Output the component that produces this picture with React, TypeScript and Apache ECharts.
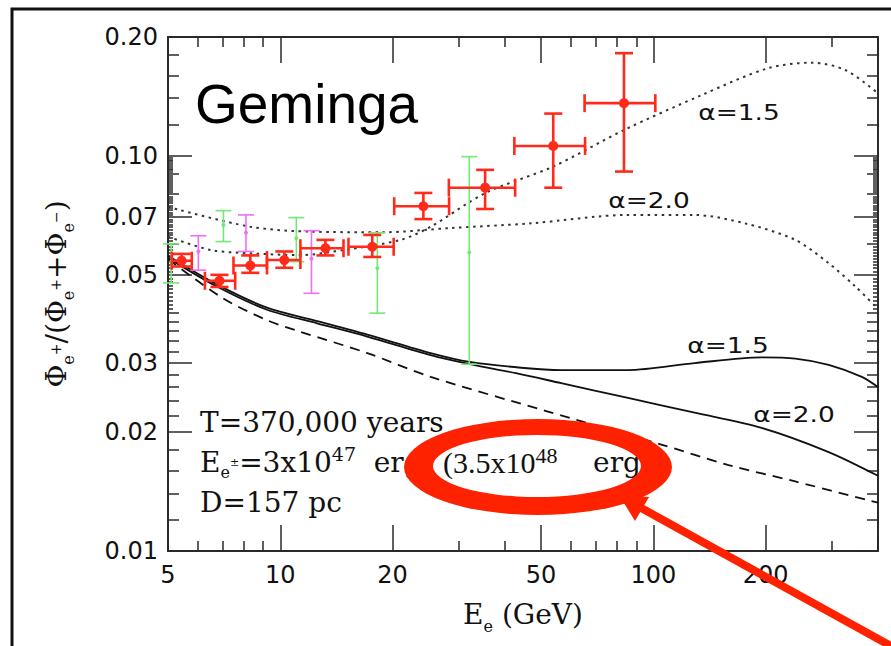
import { useEffect, useRef } from "react";
import * as echarts from "echarts";

// ---- axis ticks ----
const xTickValues = [5, 10, 20, 50, 100, 200];
const xMinorTickValues = [6, 7, 8, 9, 30, 40, 60, 70, 80, 90, 300, 400];
const yTickValues = [0.01, 0.02, 0.03, 0.05, 0.07, 0.1, 0.2];
const yMidTickValues = [
  0.012, 0.014, 0.016, 0.018, 0.022, 0.024, 0.026, 0.028, 0.032, 0.034, 0.036,
  0.038, 0.04, 0.06, 0.08, 0.09, 0.12, 0.14, 0.16, 0.18,
];
// fine hatch ticks every 0.001 between 0.04 and 0.1
const yFineTickValues: number[] = [];
for (let k = 41; k < 100; k++) {
  if (k % 10 !== 0) yFineTickValues.push(k / 1000);
}

// ---- model curves: energy (GeV) and positron fraction ----
const dotted15E = [5, 6.5, 8.3, 11.3, 14.8, 21, 25.3, 35.4, 53.9, 83.4, 135, 203, 266, 327, 400];
const dotted15V = [0.0625, 0.0578, 0.0567, 0.0561, 0.0578, 0.0613, 0.0662, 0.0805, 0.094, 0.1163, 0.1427, 0.1667, 0.1722, 0.165, 0.144];

const dotted20E = [5, 8.3, 12.1, 18.9, 28.6, 47, 85.5, 129, 176, 240, 295, 348, 400];
const dotted20V = [0.0743, 0.0662, 0.0643, 0.0641, 0.0657, 0.0675, 0.0709, 0.0709, 0.0675, 0.0613, 0.0535, 0.0467, 0.041];

const solid15E = [5, 6.76, 9.21, 12.55, 17.1, 25.3, 32.2, 44.2, 56.6, 85.5, 129, 195, 240, 295, 362, 400];
const solid15V = [0.0559, 0.0473, 0.0413, 0.0382, 0.0353, 0.0317, 0.0301, 0.0291, 0.0287, 0.0287, 0.0299, 0.0309, 0.0307, 0.0296, 0.0276, 0.026];

const solid20E = [5, 6.76, 9.21, 12.55, 17.1, 25.3, 32.2, 42.8, 56.6, 85.5, 129, 195, 295, 400];
const solid20V = [0.0552, 0.0467, 0.0408, 0.0377, 0.0349, 0.0313, 0.0297, 0.0282, 0.0266, 0.0244, 0.0224, 0.0205, 0.0178, 0.0155];

const dashedE = [5, 7.0, 9.21, 11.3, 17.1, 25.3, 51.6, 105, 159, 240, 400];
const dashedV = [0.0548, 0.0437, 0.0384, 0.0359, 0.0317, 0.0276, 0.0226, 0.0186, 0.0165, 0.015, 0.01325];

// ---- measurements ----
const redE = [5.44, 6.87, 8.31, 10.25, 13.21, 17.64, 24.18, 35.4, 53.9, 83.4];
const redElo = [5.12, 6.28, 7.49, 9.21, 11.32, 15.23, 20.2, 28.3, 42.4, 65.4];
const redEhi = [5.79, 7.57, 9.21, 11.32, 14.77, 20.13, 28.34, 42.6, 65.6, 101.2];
const redV = [0.0543, 0.0483, 0.0528, 0.0545, 0.0584, 0.0589, 0.0746, 0.0831, 0.106, 0.136];
const redVlo = [0.0525, 0.0466, 0.0506, 0.0521, 0.056, 0.0555, 0.0692, 0.0734, 0.0831, 0.0913];
const redVhi = [0.0565, 0.05, 0.056, 0.0573, 0.0613, 0.0631, 0.0806, 0.0922, 0.128, 0.182];

const greenE = [5.1, 7.04, 11.04, 18.2, 32.1];
const greenV = [0.0539, 0.0669, 0.0619, 0.052, 0.057];
const greenVlo = [0.0477, 0.0607, 0.054, 0.04, 0.0297];
const greenVhi = [0.0599, 0.0727, 0.0698, 0.0639, 0.0996];

const magentaE = [6.03, 8.09, 12.12];
const magentaV = [0.0573, 0.0639, 0.0549];
const magentaVlo = [0.0514, 0.0573, 0.0449];
const magentaVhi = [0.0628, 0.0709, 0.0647];

const AXIS = "#2a2a2a";
const RED = "#ff2a1a";
const MARK_RED = "#ff2200";
const SERIF = "DejaVu Serif";
const TIMES = "Liberation Serif";
const SANS = "DejaVu Sans";

// hand-drawn style highlight ring: outer ellipse clockwise, inner one counter-clockwise
echarts.graphic.registerShape(
  "highlightRing",
  echarts.graphic.extendPath(
    "M 404 467 A 134 48 0 1 1 672 467 A 134 48 0 1 1 404 467 Z " +
      "M 433 466 A 104 31 0 1 0 641 466 A 104 31 0 1 0 433 466 Z",
    {}
  )
);

const zip = (xs: number[], ys: number[]) => xs.map((x, i) => [x, ys[i]]);

function curve(name: string, xs: number[], ys: number[], width: number, dash: any, color: string) {
  return {
    name,
    type: "line",
    xAxisIndex: 0,
    yAxisIndex: 0,
    data: zip(xs, ys),
    smooth: 0.3,
    symbol: "none",
    silent: true,
    z: 2,
    lineStyle: { color, width, type: dash },
  };
}

function errorBars(name: string, items: number[][], color: string, width: number, cap: number, dot: number, z: number) {
  return {
    name,
    type: "custom",
    xAxisIndex: 0,
    yAxisIndex: 0,
    z,
    silent: true,
    clip: false,
    encode: { x: 0, y: 1 },
    data: items,
    renderItem: (_params: any, api: any) => {
      const c = api.coord([api.value(0), api.value(1)]);
      const lo = api.coord([api.value(2), api.value(4)]);
      const hi = api.coord([api.value(3), api.value(5)]);
      const st = { stroke: color, lineWidth: width };
      const children: any[] = [
        { type: "line", shape: { x1: c[0], y1: hi[1], x2: c[0], y2: lo[1] }, style: st },
        { type: "line", shape: { x1: c[0] - cap, y1: hi[1], x2: c[0] + cap, y2: hi[1] }, style: st },
        { type: "line", shape: { x1: c[0] - cap, y1: lo[1], x2: c[0] + cap, y2: lo[1] }, style: st },
      ];
      if (Math.abs(hi[0] - lo[0]) > 0.5) {
        children.push(
          { type: "line", shape: { x1: lo[0], y1: c[1], x2: hi[0], y2: c[1] }, style: st },
          { type: "line", shape: { x1: lo[0], y1: c[1] - cap, x2: lo[0], y2: c[1] + cap }, style: st },
          { type: "line", shape: { x1: hi[0], y1: c[1] - cap, x2: hi[0], y2: c[1] + cap }, style: st }
        );
      }
      children.push({ type: "circle", shape: { cx: c[0], cy: c[1], r: dot }, style: { fill: color } });
      return { type: "group", children };
    },
  };
}

const redPoints = redE.map((e, i) => [e, redV[i], redElo[i], redEhi[i], redVlo[i], redVhi[i]]);
const greenPoints = greenE.map((e, i) => [e, greenV[i], e, e, greenVlo[i], greenVhi[i]]);
const magentaPoints = magentaE.map((e, i) => [e, magentaV[i], e, e, magentaVlo[i], magentaVhi[i]]);

function xAxisDef(position: string, ticks: number[], len: number, main: boolean, labels: boolean) {
  return {
    type: "log",
    logBase: 10,
    min: 5,
    max: 400,
    position,
    gridIndex: 0,
    splitLine: { show: false },
    axisPointer: { show: false },
    axisLine: { show: main, onZero: false, lineStyle: { color: AXIS, width: 2 } },
    axisTick: { show: true, inside: true, length: len, customValues: ticks, lineStyle: { color: AXIS, width: 1.5 } },
    axisLabel: labels
      ? {
          show: true,
          customValues: ticks,
          margin: 12,
          color: "#111",
          fontFamily: SANS,
          fontSize: 24,
          formatter: (v: number) => String(Math.round(v)),
        }
      : { show: false },
  };
}

function yAxisDef(position: string, ticks: number[], len: number, main: boolean, labels: boolean) {
  return {
    type: "log",
    logBase: 10,
    min: 0.01,
    max: 0.2,
    position,
    gridIndex: 0,
    splitLine: { show: false },
    axisPointer: { show: false },
    axisLine: { show: main, onZero: false, lineStyle: { color: AXIS, width: 2 } },
    axisTick: { show: true, inside: true, length: len, customValues: ticks, lineStyle: { color: AXIS, width: 1.5 } },
    axisLabel: labels
      ? {
          show: true,
          customValues: ticks,
          margin: 10,
          color: "#111",
          fontFamily: SANS,
          fontSize: 24,
          formatter: (v: number) => v.toFixed(2),
        }
      : { show: false },
  };
}

export default function App() {
  const ref = useRef<HTMLDivElement>(null);

  useEffect(() => {
    if (!ref.current) return;
    const chart = echarts.init(ref.current, null, { renderer: "svg" });

    const xMain: any = xAxisDef("bottom", xTickValues, 26, true, true);
    xMain.name = "{p|E}{s|e}{p| (GeV)}";
    xMain.nameLocation = "middle";
    xMain.nameGap = 43;
    xMain.nameTextStyle = {
      rich: {
        p: { fontFamily: SERIF, fontSize: 28, lineHeight: 40, color: "#111" },
        s: { fontFamily: SERIF, fontSize: 16, lineHeight: 16, verticalAlign: "bottom", color: "#111" },
      },
    };

    const yMain: any = yAxisDef("left", yTickValues, 24, true, true);
    yMain.name = "{p|Φ}{s|e}{u|+}{p|/(Φ}{s|e}{u|+}{p|+Φ}{s|e}{u|−}{p|)}";
    yMain.nameLocation = "middle";
    yMain.nameRotate = 90;
    yMain.nameGap = 92;
    yMain.nameTextStyle = {
      rich: {
        p: { fontFamily: SERIF, fontSize: 28, lineHeight: 40, color: "#111" },
        s: { fontFamily: SERIF, fontSize: 16, lineHeight: 16, verticalAlign: "bottom", color: "#111" },
        u: { fontFamily: SERIF, fontSize: 14, lineHeight: 14, verticalAlign: "middle", color: "#111" },
      },
    };

    const textBase = { fill: "#111", fontFamily: SERIF, fontSize: 28, verticalAlign: "middle", align: "left" };
    const richLine = {
      m: { fontFamily: SERIF, fontSize: 28, lineHeight: 36, fill: "#111" },
      q: { fontFamily: TIMES, fontSize: 30, lineHeight: 36, fill: "#111" },
      s: { fontFamily: SERIF, fontSize: 16, lineHeight: 16, verticalAlign: "bottom", fill: "#111" },
      u: { fontFamily: SERIF, fontSize: 11, lineHeight: 11, verticalAlign: "middle", fill: "#111" },
      t: { fontFamily: SERIF, fontSize: 19, lineHeight: 19, verticalAlign: "top", fill: "#111" },
      tq: { fontFamily: TIMES, fontSize: 22, lineHeight: 19, verticalAlign: "top", fill: "#111" },
    };
    const alpha = (text: string, x: number, y: number) => ({
      type: "text",
      x,
      y,
      scaleX: 1.2,
      z: 50,
      silent: true,
      style: { text, fill: "#111", fontFamily: SANS, fontSize: 22, align: "center", verticalAlign: "middle" },
    });

    chart.setOption({
      animation: false,
      backgroundColor: "#ffffff",
      grid: { left: 168, top: 37, width: 710, height: 514, containLabel: false, outerBoundsMode: "none" },
      xAxis: [
        xMain,
        xAxisDef("bottom", xMinorTickValues, 10, false, false),
        xAxisDef("top", xTickValues, 26, true, false),
        xAxisDef("top", xMinorTickValues, 10, false, false),
      ],
      yAxis: [
        yMain,
        yAxisDef("left", yMidTickValues, 11, false, false),
        yAxisDef("left", yFineTickValues, 5, false, false),
        yAxisDef("right", yTickValues, 24, true, false),
        yAxisDef("right", yMidTickValues, 11, false, false),
        yAxisDef("right", yFineTickValues, 5, false, false),
      ],
      series: [
        curve("dotted α=1.5", dotted15E, dotted15V, 2, [2.5, 4.5], "#333"),
        curve("dotted α=2.0", dotted20E, dotted20V, 2, [2.5, 4.5], "#333"),
        curve("solid α=1.5", solid15E, solid15V, 1.8, "solid", "#111"),
        curve("solid α=2.0", solid20E, solid20V, 1.8, "solid", "#111"),
        curve("dashed", dashedE, dashedV, 1.8, [10, 7], "#111"),
        errorBars("green", greenPoints, "#74e874", 1.6, 8, 2, 3),
        errorBars("magenta", magentaPoints, "#f26ef2", 1.6, 8, 2, 3),
        errorBars("red", redPoints, RED, 2.6, 9, 5, 4),
      ],
      graphic: [
        {
          type: "rect",
          z: 1,
          silent: true,
          shape: { x: 12, y: 9, width: 900, height: 700 },
          style: { fill: "none", stroke: "#111", lineWidth: 3 },
        },
        {
          type: "text",
          x: 195,
          y: 104,
          z: 50,
          silent: true,
          style: { text: "Geminga", fill: "#000", fontFamily: "Liberation Sans", fontSize: 55, align: "left", verticalAlign: "middle" },
        },
        alpha("α=1.5", 739, 112),
        alpha("α=2.0", 649, 200),
        alpha("α=1.5", 728, 345),
        alpha("α=2.0", 794, 414),
        { type: "text", x: 200, y: 422, z: 50, silent: true, style: { ...textBase, text: "T=370,000 years" } },
        {
          type: "text",
          x: 200,
          y: 462,
          z: 50,
          silent: true,
          style: { ...textBase, text: "{m|E}{s|e}{u|±}{m|=3x10}{t|47}{m|  erg}", rich: richLine },
        },
        { type: "text", x: 200, y: 502, z: 50, silent: true, style: { ...textBase, text: "D=157 pc" } },
        {
          type: "text",
          x: 443,
          y: 462,
          z: 50,
          silent: true,
          style: { ...textBase, text: "{q|(3.5x10}{tq|48}{m|    erg)}", rich: richLine },
        },
        // highlight ring and pointer arrow
        {
          type: "highlightRing",
          z: 60,
          silent: true,
          style: { fill: MARK_RED, stroke: "none" },
        },
        {
          type: "line",
          z: 63,
          silent: true,
          shape: { x1: 634, y1: 504, x2: 900, y2: 651 },
          style: { stroke: MARK_RED, lineWidth: 8 },
        },
        {
          type: "polygon",
          z: 63,
          silent: true,
          shape: { points: [[619, 495], [649, 497], [635, 521]] },
          style: { fill: MARK_RED },
        },
      ],
    });

    return () => chart.dispose();
  }, []);

  return (
    <div
      ref={ref}
      style={{ position: "fixed", left: 0, top: 0, width: 891, height: 646, background: "#fff" }}
    />
  );
}
